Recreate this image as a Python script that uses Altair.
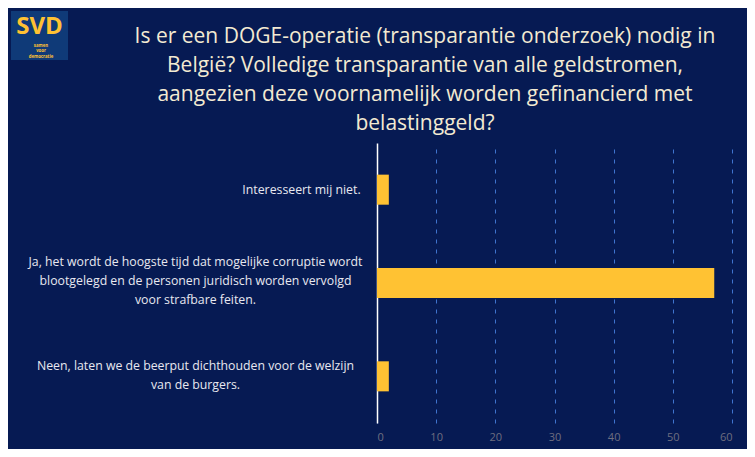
import altair as alt
import pandas as pd

categories = [
    "Interesseert mij niet.",
    "Ja, het wordt de hoogste tijd dat mogelijke corruptie wordt\nblootgelegd en de personen juridisch worden vervolgd\nvoor strafbare feiten.",
    "Neen, laten we de beerput dichthouden voor de welzijn\nvan de burgers.",
]
values = [2, 57, 2]
x_ticks = [0, 10, 20, 30, 40, 50, 60]
title_lines = [
    "Is er een DOGE-operatie (transparantie onderzoek) nodig in",
    "België? Volledige transparantie van alle geldstromen,",
    "aangezien deze voornamelijk worden gefinancierd met",
    "belastinggeld?",
]
logo_lines = ["samen", "voor", "democratie"]

df = pd.DataFrame({"cat": categories, "val": values})

NAVY = "#061a53"
BAR = "#ffc233"

bars = alt.Chart(df).mark_bar(color=BAR).encode(
    x=alt.X(
        "val:Q",
        scale=alt.Scale(domain=[0, 60], nice=False),
        axis=alt.Axis(
            values=x_ticks,
            title=None,
            domain=False,
            ticks=False,
            labelColor="#6e6e80",
            labelFontSize=11,
            labelFont="Open Sans",
            labelPadding=8,
            grid=True,
            gridColor="#3f74cf",
            gridDash=[4, 6],
            gridWidth=1,
        ),
    ),
    y=alt.Y(
        "cat:N",
        sort=None,
        scale=alt.Scale(paddingInner=0.678, paddingOuter=0.339),
        axis=alt.Axis(
            title=None,
            ticks=False,
            domainColor="#ffffff",
            domainWidth=1.5,
            labelColor="#e8e8f0",
            labelFontSize=12.3,
            labelFont="Open Sans",
            labelAlign="center",
            labelLineHeight=19,
            labelLimit=0,
            labelPadding={
                "condition": {"test": "datum.value == 'Interesseert mij niet.'", "value": 76},
                "value": 182,
            },
            labelOffset={
                "condition": [
                    {"test": "indexof(datum.value, 'Ja,') == 0", "value": -21},
                    {"test": "indexof(datum.value, 'Neen,') == 0", "value": -10},
                ],
                "value": 0,
            },
            labelExpr="split(datum.label, '\\n')",
        ),
    ),
)

one = pd.DataFrame({"a": [0]})

title = alt.Chart(pd.DataFrame({"t": [title_lines]})).mark_text(
    color="#f3ead2", font="Open Sans", fontSize=21, lineHeight=29,
    align="center", baseline="top",
).encode(text="t:N", x=alt.value(425 - 377), y=alt.value(26 - 143))

logo_box = alt.Chart(one).mark_rect(color="#0f3a78").encode(
    x=alt.value(11 - 377), x2=alt.value(68 - 377),
    y=alt.value(11 - 143), y2=alt.value(60 - 143),
)
logo_svd = alt.Chart(pd.DataFrame({"a": ["SVD"]})).mark_text(
    color=BAR, font="Open Sans", fontWeight="bold", fontSize=24, align="center", baseline="alphabetic"
).encode(text="a:N", x=alt.value(39.5 - 377), y=alt.value(34 - 143))
logo_small = alt.Chart(pd.DataFrame({"a": [logo_lines]})).mark_text(
    color=BAR, font="Open Sans", fontWeight="bold", fontSize=4.3, lineHeight=5.6, align="center", baseline="top"
).encode(text="a:N", x=alt.value(41 - 377), y=alt.value(43.5 - 143))

chart = alt.layer(bars, title, logo_box, logo_svd, logo_small).properties(
    width=355,
    height=280,
    padding={"left": 369, "top": 135, "right": 15, "bottom": 26},
    autosize=alt.AutoSizeParams(type="none"),
    background=NAVY,
).configure_view(stroke=None)

chart.save("out.html", embed_options={"renderer": "svg", "actions": False})
